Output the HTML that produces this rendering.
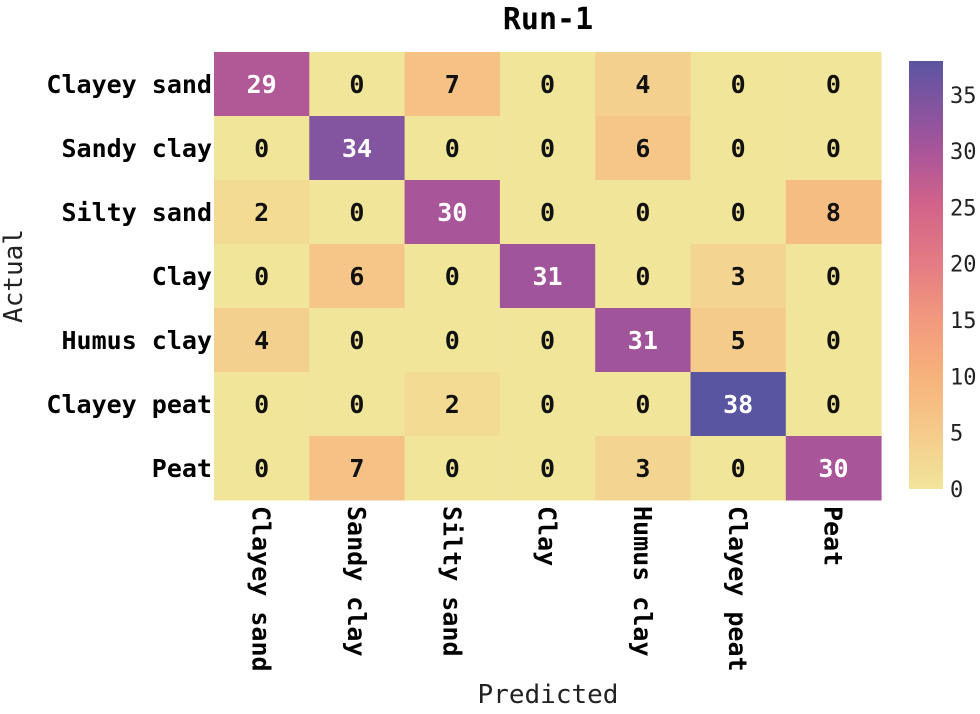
<!DOCTYPE html>
<html><head><meta charset="utf-8"><style>
body{margin:0;background:#fff;width:980px;height:709px;overflow:hidden}
svg text{font-family:"DejaVu Sans Mono","Liberation Mono",monospace}
</style></head><body>
<svg id="chart" width="980" height="709" xmlns="http://www.w3.org/2000/svg">
<defs><linearGradient id="cb" x1="0" y1="1" x2="0" y2="0">
<stop offset="0" stop-color="#f1e59a"/><stop offset="0.13" stop-color="#f5cb8b"/><stop offset="0.26" stop-color="#f6b37c"/><stop offset="0.39" stop-color="#f39a7e"/><stop offset="0.53" stop-color="#e37b84"/><stop offset="0.66" stop-color="#d26489"/><stop offset="0.79" stop-color="#a9559a"/><stop offset="0.92" stop-color="#7a54a0"/><stop offset="1" stop-color="#5a55a0"/>
</linearGradient></defs>
<text x="548" y="29" text-anchor="middle" font-size="30" font-weight="bold">Run-1</text>
<g id="cells"></g>
<rect x="909" y="61" width="34" height="428" fill="url(#cb)"/>
<g id="cbticks"></g>
<text x="548" y="703" text-anchor="middle" font-size="26" fill="#222">Predicted</text>
<text transform="translate(22,276) rotate(-90)" text-anchor="middle" font-size="26" fill="#222">Actual</text>
</svg>
<script>
const labels=["Clayey sand","Sandy clay","Silty sand","Clay","Humus clay","Clayey peat","Peat"];
const row0=[29,0,7,0,4,0,0];
const row1=[0,34,0,0,6,0,0];
const row2=[2,0,30,0,0,0,8];
const row3=[0,6,0,31,0,3,0];
const row4=[4,0,0,0,31,5,0];
const row5=[0,0,2,0,0,38,0];
const row6=[0,7,0,0,3,0,30];
const cbTicks=[0,5,10,15,20,25,30,35];
const matrix=[row0,row1,row2,row3,row4,row5,row6];
const NS="http://www.w3.org/2000/svg";
const X0=214,Y0=52,CW=95.3,CH=64,VMAX=38,CBY=489,CBH=428;
const stops=[[0,[241,229,154]],[5,[245,203,139]],[10,[246,179,124]],[15,[243,154,126]],[20,[227,123,132]],[25,[210,100,137]],[30,[169,85,154]],[35,[122,84,160]],[38,[90,85,160]]];
function color(v){for(let i=1;i<stops.length;i++){if(v<=stops[i][0]){const a=stops[i-1],b=stops[i],t=(v-a[0])/(b[0]-a[0]);return "rgb("+a[1].map((c,k)=>Math.round(c+(b[1][k]-c)*t)).join(",")+")";}}return "rgb(90,85,160)";}
const xs=i=>X0+i*CW, ys=j=>Y0+j*CH, cby=v=>CBY-v/VMAX*CBH;
const g=document.getElementById("cells"),svg=document.getElementById("chart");
function mk(t,a,p){const e=document.createElementNS(NS,t);for(const k in a)e.setAttribute(k,a[k]);(p||svg).appendChild(e);return e;}
matrix.forEach((row,j)=>row.forEach((v,i)=>{
 const r=mk("rect",{x:xs(i),y:ys(j),width:CW+0.5,height:CH+0.5,fill:color(v)},g);
 
 
 const t=mk("text",{x:xs(i)+CW/2,y:ys(j)+CH/2+9,"text-anchor":"middle","font-size":"25","font-weight":"bold",fill:v>19?"#fff":"#111"},g);
 t.textContent=v;
 
 
}));
labels.forEach((l,j)=>{
 const t=mk("text",{x:212,y:ys(j)+CH/2+9,"text-anchor":"end","font-size":"25","font-weight":"bold"});
 t.textContent=l;
 
 
 const u=mk("text",{transform:"translate("+(xs(j)+CW/2-9)+",506) rotate(90)","text-anchor":"start","font-size":"25","font-weight":"bold"});
 u.textContent=l;
 
 
});
cbTicks.forEach(v=>{
 const t=mk("text",{x:950,y:cby(v)+8,"font-size":"22",fill:"#222"});
 t.textContent=v;
 
 
});
</script>
</body></html>
